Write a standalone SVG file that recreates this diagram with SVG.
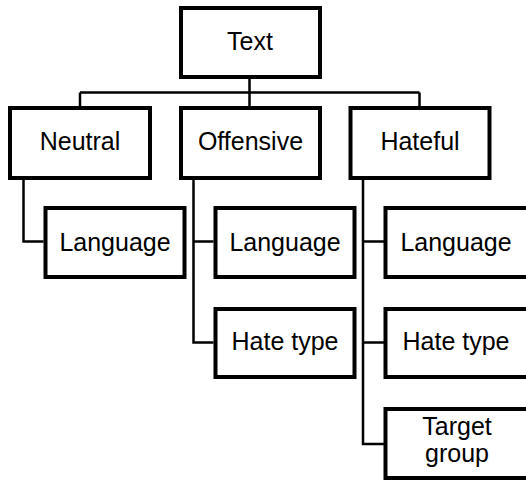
<svg xmlns="http://www.w3.org/2000/svg" width="526" height="482" viewBox="0 0 526 482">
<style>
.box{fill:#fff;stroke:#000;stroke-width:4}
.lbl{font-family:"Liberation Sans",Arial,sans-serif;font-size:25px;fill:#000;text-anchor:middle}
.con{fill:none;stroke:#000;stroke-width:2.5}
</style>
<rect width="526" height="482" fill="#fff"/>
<g id="connectors">
<path class="con" d="M249.5 79V92.5M80 92.5H419.5M80 92.5V106M249.5 92.5V106M419.5 92.5V106"/>
<path class="con" d="M23.5 180V241.5H43.5"/>
<path class="con" d="M193.5 180V342.5H213.5M193.5 241.5H213.5"/>
<path class="con" d="M363 180V444H384M363 241.5H384M363 342.5H384"/>
</g>
<g id="text"><rect class="box" x="181" y="8" width="139" height="69"/><text class="lbl" x="250" y="49.5">Text</text></g>
<g id="neutral"><rect class="box" x="10" y="108" width="140" height="70"/><text class="lbl" x="80" y="149.5">Neutral</text></g>
<g id="offensive"><rect class="box" x="181" y="108" width="139" height="70"/><text class="lbl" x="250.5" y="149.5">Offensive</text></g>
<g id="hateful"><rect class="box" x="350.5" y="108" width="139" height="70"/><text class="lbl" x="420" y="149.5">Hateful</text></g>
<g id="neutral-language"><rect class="box" x="45.5" y="208" width="139" height="69"/><text class="lbl" x="115" y="250.5">Language</text></g>
<g id="offensive-language"><rect class="box" x="215.5" y="208" width="139" height="69"/><text class="lbl" x="285" y="250.5">Language</text></g>
<g id="offensive-hatetype"><rect class="box" x="215.5" y="309" width="139" height="68"/><text class="lbl" x="285" y="350">Hate type</text></g>
<g id="hateful-language"><rect class="box" x="385.5" y="208" width="143" height="69"/><text class="lbl" x="456" y="250.5">Language</text></g>
<g id="hateful-hatetype"><rect class="box" x="385.5" y="309" width="143" height="68"/><text class="lbl" x="456" y="350">Hate type</text></g>
<g id="hateful-targetgroup"><rect class="box" x="385.5" y="409" width="143" height="69"/><text class="lbl" x="457" y="435">Target</text><text class="lbl" x="457" y="462">group</text></g>
</svg>
